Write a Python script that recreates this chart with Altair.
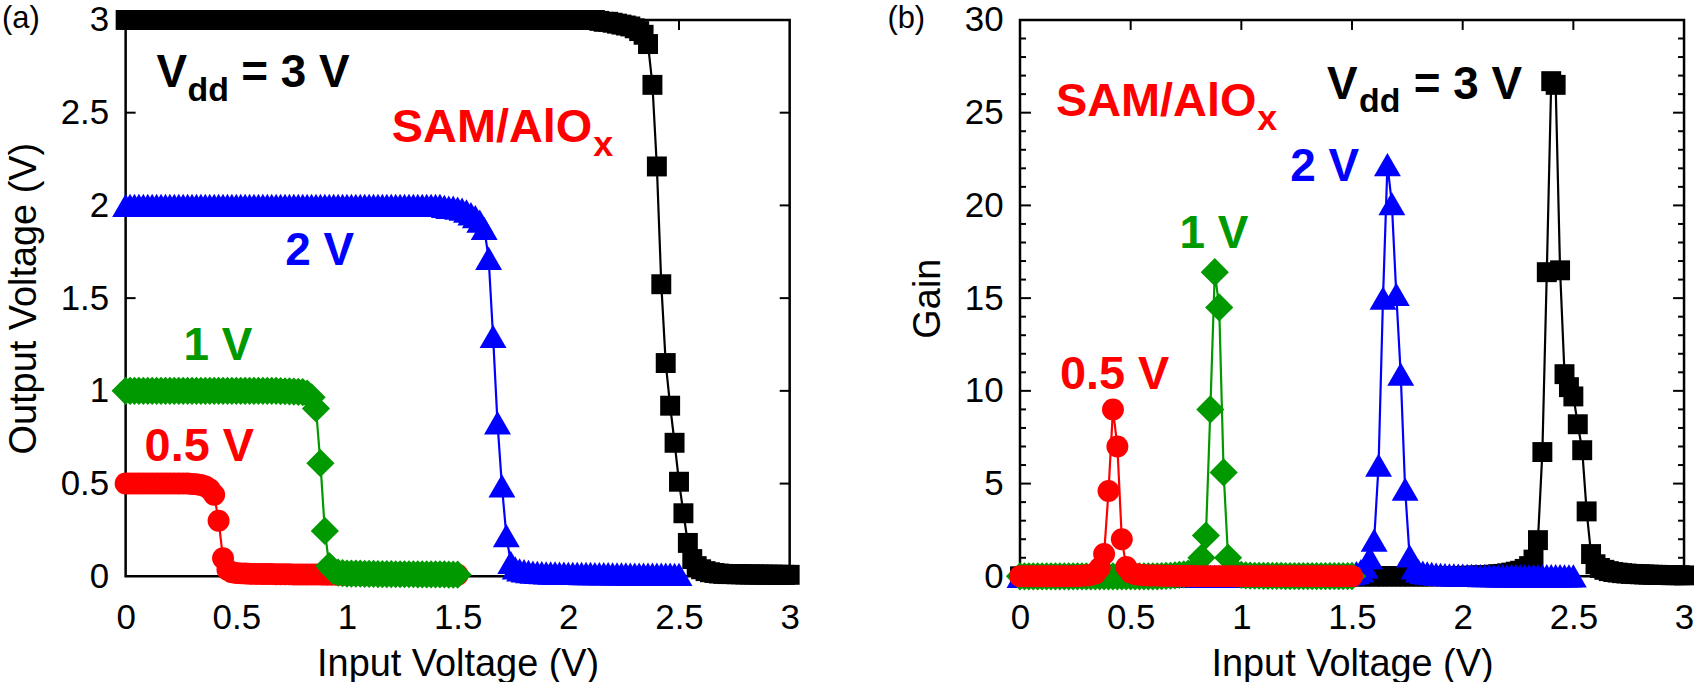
import altair as alt
import pandas as pd

# ---------------- data ----------------
VIN = [
    0.00, 0.02, 0.04, 0.06, 0.08, 0.10, 0.12, 0.14, 0.16, 0.18,
    0.20, 0.22, 0.24, 0.26, 0.28, 0.30, 0.32, 0.34, 0.36, 0.38,
    0.40, 0.42, 0.44, 0.46, 0.48, 0.50, 0.52, 0.54, 0.56, 0.58,
    0.60, 0.62, 0.64, 0.66, 0.68, 0.70, 0.72, 0.74, 0.76, 0.78,
    0.80, 0.82, 0.84, 0.86, 0.88, 0.90, 0.92, 0.94, 0.96, 0.98,
    1.00, 1.02, 1.04, 1.06, 1.08, 1.10, 1.12, 1.14, 1.16, 1.18,
    1.20, 1.22, 1.24, 1.26, 1.28, 1.30, 1.32, 1.34, 1.36, 1.38,
    1.40, 1.42, 1.44, 1.46, 1.48, 1.50, 1.52, 1.54, 1.56, 1.58,
    1.60, 1.62, 1.64, 1.66, 1.68, 1.70, 1.72, 1.74, 1.76, 1.78,
    1.80, 1.82, 1.84, 1.86, 1.88, 1.90, 1.92, 1.94, 1.96, 1.98,
    2.00, 2.02, 2.04, 2.06, 2.08, 2.10, 2.12, 2.14, 2.16, 2.18,
    2.20, 2.22, 2.24, 2.26, 2.28, 2.30, 2.32, 2.34, 2.36, 2.38,
    2.40, 2.42, 2.44, 2.46, 2.48, 2.50, 2.52, 2.54, 2.56, 2.58,
    2.60, 2.62, 2.64, 2.66, 2.68, 2.70, 2.72, 2.74, 2.76, 2.78,
    2.80, 2.82, 2.84, 2.86, 2.88, 2.90, 2.92, 2.94, 2.96, 2.98,
    3.00,
]

# Output voltage (V), panel (a)
VOUT_3V = [
    3.00, 3.00, 3.00, 3.00, 3.00, 3.00, 3.00, 3.00, 3.00, 3.00,
    3.00, 3.00, 3.00, 3.00, 3.00, 3.00, 3.00, 3.00, 3.00, 3.00,
    3.00, 3.00, 3.00, 3.00, 3.00, 3.00, 3.00, 3.00, 3.00, 3.00,
    3.00, 3.00, 3.00, 3.00, 3.00, 3.00, 3.00, 3.00, 3.00, 3.00,
    3.00, 3.00, 3.00, 3.00, 3.00, 3.00, 3.00, 3.00, 3.00, 3.00,
    3.00, 3.00, 3.00, 3.00, 3.00, 3.00, 3.00, 3.00, 3.00, 3.00,
    3.00, 3.00, 3.00, 3.00, 3.00, 3.00, 3.00, 3.00, 3.00, 3.00,
    3.00, 3.00, 3.00, 3.00, 3.00, 3.00, 3.00, 3.00, 3.00, 3.00,
    3.00, 3.00, 3.00, 3.00, 3.00, 3.00, 3.00, 3.00, 3.00, 3.00,
    3.00, 3.00, 3.00, 3.00, 3.00, 3.00, 3.00, 3.00, 3.00, 3.00,
    3.00, 3.00, 3.00, 3.00, 3.00, 3.00, 3.00, 2.995, 2.99, 2.99,
    2.985, 2.98, 2.975, 2.97, 2.965, 2.955, 2.94, 2.92, 2.87, 2.65,
    2.21, 1.575, 1.15, 0.92, 0.72, 0.51, 0.34, 0.18, 0.093, 0.055,
    0.038, 0.028, 0.022, 0.018, 0.015, 0.013, 0.012, 0.012, 0.011, 0.011,
    0.010, 0.010, 0.010, 0.009, 0.009, 0.009, 0.009, 0.008, 0.008, 0.008,
    0.008,
]
VOUT_2V = [
    2.00, 2.00, 2.00, 2.00, 2.00, 2.00, 2.00, 2.00, 2.00, 2.00,
    2.00, 2.00, 2.00, 2.00, 2.00, 2.00, 2.00, 2.00, 2.00, 2.00,
    2.00, 2.00, 2.00, 2.00, 2.00, 2.00, 2.00, 2.00, 2.00, 2.00,
    2.00, 2.00, 2.00, 2.00, 2.00, 2.00, 2.00, 2.00, 2.00, 2.00,
    2.00, 2.00, 2.00, 2.00, 2.00, 2.00, 2.00, 2.00, 2.00, 2.00,
    2.00, 2.00, 2.00, 2.00, 2.00, 2.00, 2.00, 2.00, 2.00, 2.00,
    2.00, 2.00, 2.00, 2.00, 2.00, 2.00, 2.00, 2.00, 2.00, 2.00,
    2.00, 2.00, 1.995, 1.99, 1.99, 1.985, 1.98, 1.97, 1.955, 1.94,
    1.915, 1.876, 1.715, 1.294, 0.828, 0.488, 0.219, 0.075, 0.045, 0.035,
    0.030, 0.026, 0.023, 0.021, 0.020, 0.019, 0.018, 0.018, 0.017, 0.017,
    0.016, 0.016, 0.016, 0.015, 0.015, 0.015, 0.014, 0.014, 0.014, 0.014,
    0.013, 0.013, 0.013, 0.013, 0.012, 0.012, 0.012, 0.012, 0.012, 0.011,
    0.011, 0.011, 0.011, 0.011, 0.010, 0.010,
]
VOUT_1V = [
    1.00, 1.00, 1.00, 1.00, 1.00, 1.00, 1.00, 1.00, 1.00, 1.00,
    1.00, 1.00, 1.00, 1.00, 1.00, 1.00, 1.00, 1.00, 1.00, 1.00,
    1.00, 1.00, 1.00, 1.00, 1.00, 1.00, 1.00, 1.00, 1.00, 1.00,
    1.00, 1.00, 1.00, 1.00, 1.00, 0.999, 0.998, 0.997, 0.996, 0.995,
    0.993, 0.985, 0.965, 0.905, 0.610, 0.245, 0.055, 0.028, 0.020, 0.017,
    0.015, 0.015, 0.014, 0.014, 0.013, 0.013, 0.013, 0.012, 0.012, 0.012,
    0.012, 0.011, 0.011, 0.011, 0.011, 0.011, 0.010, 0.010, 0.010, 0.010,
    0.010, 0.010, 0.010, 0.009, 0.009, 0.009,
]
VOUT_05V = [
    0.50, 0.50, 0.50, 0.50, 0.50, 0.50, 0.50, 0.50, 0.50, 0.50,
    0.50, 0.50, 0.50, 0.50, 0.50, 0.498, 0.496, 0.492, 0.485, 0.470,
    0.440, 0.300, 0.097, 0.035, 0.022, 0.018, 0.016, 0.015, 0.014, 0.013,
    0.013, 0.012, 0.012, 0.012, 0.011, 0.011, 0.011, 0.011, 0.010, 0.010,
    0.010, 0.010, 0.010, 0.010, 0.010, 0.009, 0.009, 0.009, 0.009, 0.009,
    0.009, 0.009, 0.009, 0.009, 0.009, 0.008, 0.008, 0.008, 0.008, 0.008,
    0.008, 0.008, 0.008, 0.008, 0.008, 0.008, 0.008, 0.008, 0.008, 0.008,
    0.008, 0.008, 0.008, 0.008, 0.008, 0.008,
]

# Gain, panel (b)
GAIN_3V = [
    0.00, 0.00, 0.00, 0.00, 0.00, 0.00, 0.00, 0.00, 0.00, 0.00,
    0.00, 0.00, 0.00, 0.00, 0.00, 0.00, 0.00, 0.00, 0.00, 0.00,
    0.00, 0.00, 0.00, 0.00, 0.00, 0.00, 0.00, 0.00, 0.00, 0.00,
    0.00, 0.00, 0.00, 0.00, 0.00, 0.00, 0.00, 0.00, 0.00, 0.00,
    0.00, 0.00, 0.00, 0.00, 0.00, 0.00, 0.00, 0.00, 0.00, 0.00,
    0.00, 0.00, 0.00, 0.00, 0.00, 0.00, 0.00, 0.00, 0.00, 0.00,
    0.00, 0.00, 0.00, 0.00, 0.00, 0.00, 0.00, 0.00, 0.00, 0.00,
    0.00, 0.00, 0.00, 0.00, 0.00, 0.00, 0.00, 0.00, 0.00, 0.00,
    0.00, 0.00, 0.00, 0.00, 0.00, 0.00, 0.00, 0.00, 0.00, 0.00,
    0.00, 0.00, 0.00, 0.00, 0.01, 0.01, 0.01, 0.01, 0.01, 0.01,
    0.02, 0.03, 0.03, 0.04, 0.05, 0.06, 0.07, 0.09, 0.11, 0.13,
    0.16, 0.20, 0.25, 0.30, 0.40, 0.55, 0.90, 1.95, 6.70, 16.4,
    26.7, 26.5, 16.5, 10.9, 10.2, 9.7, 8.2, 6.8, 3.5, 1.2,
    0.65, 0.45, 0.35, 0.28, 0.23, 0.20, 0.17, 0.15, 0.13, 0.12,
    0.11, 0.10, 0.09, 0.08, 0.08, 0.07, 0.07, 0.06, 0.06, 0.06,
    0.05,
]
GAIN_2V = [
    0.00, 0.00, 0.00, 0.00, 0.00, 0.00, 0.00, 0.00, 0.00, 0.00,
    0.00, 0.00, 0.00, 0.00, 0.00, 0.00, 0.00, 0.00, 0.00, 0.00,
    0.00, 0.00, 0.00, 0.00, 0.00, 0.00, 0.00, 0.00, 0.00, 0.00,
    0.00, 0.00, 0.00, 0.00, 0.00, 0.00, 0.00, 0.00, 0.00, 0.00,
    0.00, 0.00, 0.00, 0.00, 0.00, 0.00, 0.00, 0.00, 0.00, 0.00,
    0.00, 0.00, 0.00, 0.00, 0.00, 0.00, 0.00, 0.00, 0.00, 0.00,
    0.00, 0.00, 0.00, 0.00, 0.01, 0.01, 0.01, 0.01, 0.01, 0.01,
    0.02, 0.03, 0.05, 0.07, 0.10, 0.15, 0.20, 0.30, 0.50, 1.00,
    1.95, 6.0, 15.0, 22.2, 20.1, 15.2, 10.9, 4.7, 1.1, 0.45,
    0.30, 0.22, 0.18, 0.15, 0.12, 0.10, 0.09, 0.08, 0.07, 0.06,
    0.06, 0.05, 0.05, 0.05, 0.04, 0.04, 0.04, 0.04, 0.03, 0.03,
    0.03, 0.03, 0.03, 0.03, 0.03, 0.03, 0.03, 0.03, 0.03, 0.03,
    0.03, 0.03, 0.03, 0.02, 0.02, 0.02,
]
GAIN_1V = [
    0.00, 0.00, 0.00, 0.00, 0.00, 0.00, 0.00, 0.00, 0.00, 0.00,
    0.00, 0.00, 0.00, 0.00, 0.00, 0.00, 0.00, 0.00, 0.00, 0.00,
    0.00, 0.00, 0.00, 0.00, 0.00, 0.00, 0.00, 0.00, 0.00, 0.00,
    0.00, 0.00, 0.01, 0.02, 0.03, 0.05, 0.08, 0.10, 0.15, 0.25,
    0.45, 1.00, 2.20, 9.00, 16.4, 14.5, 5.60, 1.00, 0.35, 0.15,
    0.08, 0.05, 0.04, 0.03, 0.03, 0.02, 0.02, 0.02, 0.02, 0.02,
    0.01, 0.01, 0.01, 0.01, 0.01, 0.01, 0.01, 0.01, 0.01, 0.01,
    0.01, 0.01, 0.01, 0.01, 0.01, 0.01,
]
GAIN_05V = [
    0.00, 0.00, 0.00, 0.00, 0.00, 0.00, 0.00, 0.00, 0.00, 0.00,
    0.00, 0.01, 0.01, 0.02, 0.03, 0.05, 0.08, 0.15, 0.45, 1.20,
    4.60, 9.00, 7.00, 2.00, 0.50, 0.20, 0.12, 0.08, 0.06, 0.05,
    0.04, 0.04, 0.03, 0.03, 0.03, 0.02, 0.02, 0.02, 0.02, 0.02,
    0.01, 0.01, 0.01, 0.01, 0.01, 0.01, 0.01, 0.01, 0.01, 0.01,
    0.01, 0.01, 0.01, 0.01, 0.01, 0.01, 0.01, 0.01, 0.01, 0.01,
    0.01, 0.01, 0.01, 0.01, 0.01, 0.01, 0.01, 0.01, 0.01, 0.01,
    0.01, 0.01, 0.01, 0.01, 0.01, 0.01,
]

AXIS_TICKS = [0, 0.5, 1, 1.5, 2, 2.5, 3]
GAIN_AXIS_TICKS = [0, 5, 10, 15, 20, 25, 30]
INNER_TICKS = [0.5, 1, 1.5, 2, 2.5]
GAIN_MAJOR_INNER = [5, 10, 15, 20, 25]
GAIN_MINOR_INNER = [1, 2, 3, 4, 6, 7, 8, 9, 11, 12, 13, 14,
                    16, 17, 18, 19, 21, 22, 23, 24, 26, 27, 28, 29]

# ---------------- styling ----------------
FONT = "Liberation Sans"
W, H = 666, 558
BLACK, BLUE, GREEN, RED = "#000000", "#0000FF", "#009900", "#FF0000"
ONE = pd.DataFrame({"n": [0]})

XSCALE = alt.Scale(domain=[0, 3], nice=False, zero=False)
VSCALE = alt.Scale(domain=[0, 3], nice=False, zero=False)
GSCALE = alt.Scale(domain=[0, 30], nice=False, zero=False)


def x_axis():
    return alt.Axis(values=AXIS_TICKS, format="~g", title="Input Voltage (V)",
                    ticks=False, tickSize=0, domain=False, grid=False,
                    labelPadding=24, labelFlush=False, labelOverlap=False,
                    titleX=W / 2, titleY=99, titleAlign="center",
                    titleBaseline="alphabetic")


def y_axis(values, title, title_x):
    return alt.Axis(values=values, format="~g", title=title,
                    ticks=False, tickSize=0, domain=False, grid=False,
                    labelPadding=17, labelFlush=False, labelOverlap=False,
                    titleAngle=270, titleX=title_x, titleY=H / 2,
                    titleAlign="center", titleBaseline="alphabetic")


def make_panel(yscale, yaxis, tick_specs, series_specs, notes):
    xa = x_axis()
    layers = []
    # inward tick marks, drawn first so markers cover them
    for vals, side, length in tick_specs:
        df = pd.DataFrame({"t": vals})
        if side in ("bottom", "top"):
            y0, y1 = (H, H - length) if side == "bottom" else (0, length)
            layers.append(alt.Chart(df).mark_rule(color="black", strokeWidth=2).encode(
                x=alt.X("t:Q", scale=XSCALE, axis=xa),
                y=alt.value(y0), y2=alt.value(y1)))
        else:
            x0, x1 = (0, length) if side == "left" else (W, W - length)
            layers.append(alt.Chart(df).mark_rule(color="black", strokeWidth=2).encode(
                y=alt.Y("t:Q", scale=yscale, axis=yaxis),
                x=alt.value(x0), x2=alt.value(x1)))
    for values, color, shape, size in series_specs:
        df = pd.DataFrame({"vin": VIN[:len(values)], "val": values})
        base = alt.Chart(df).encode(
            x=alt.X("vin:Q", scale=XSCALE, axis=xa),
            y=alt.Y("val:Q", scale=yscale, axis=yaxis),
        )
        layers.append(base.mark_line(color=color, strokeWidth=2.2))
        layers.append(base.mark_point(shape=shape, size=size, filled=True,
                                      color=color, opacity=1, strokeWidth=0))
    for text, x, y, size, color, weight, baseline in notes:
        layers.append(alt.Chart(ONE).mark_text(
            text=text, font=FONT, fontSize=size, fontWeight=weight, color=color,
            align="left", baseline=baseline).encode(x=alt.value(x), y=alt.value(y)))
    return alt.layer(*layers).properties(width=W, height=H)


# ---------------- panel (a) ----------------
left = make_panel(
    VSCALE,
    y_axis(AXIS_TICKS, "Output Voltage (V)", -90),
    [(INNER_TICKS, "bottom", 10), (INNER_TICKS, "top", 10),
     (INNER_TICKS, "left", 10), (INNER_TICKS, "right", 10)],
    [(VOUT_3V, BLACK, "square", 400),
     (VOUT_2V, BLUE, "triangle-up", 729),
     (VOUT_05V, RED, "circle", 484),
     (VOUT_1V, GREEN, "diamond", 800)],
    [("(a)", -124, -16, 31, BLACK, "normal", "top"),
     ("V", 31, 67, 46, BLACK, "bold", "alphabetic"),
     ("dd", 62, 81, 34, BLACK, "bold", "alphabetic"),
     ("= 3 V", 116, 67, 46, BLACK, "bold", "alphabetic"),
     ("SAM/AlO", 267, 122, 47, RED, "bold", "alphabetic"),
     ("x", 469, 136, 36, RED, "bold", "alphabetic"),
     ("2 V", 160, 246, 46, BLUE, "bold", "alphabetic"),
     ("1 V", 58, 341, 46, GREEN, "bold", "alphabetic"),
     ("0.5 V", 19, 442, 47, RED, "bold", "alphabetic")],
)

# ---------------- panel (b) ----------------
right = make_panel(
    GSCALE,
    y_axis(GAIN_AXIS_TICKS, "Gain", -81),
    [(INNER_TICKS, "bottom", 10), (INNER_TICKS, "top", 10),
     (GAIN_MAJOR_INNER, "left", 11), (GAIN_MAJOR_INNER, "right", 11),
     (GAIN_MINOR_INNER, "left", 6), (GAIN_MINOR_INNER, "right", 6)],
    [(GAIN_3V, BLACK, "square", 400),
     (GAIN_2V, BLUE, "triangle-up", 729),
     (GAIN_1V, GREEN, "diamond", 800),
     (GAIN_05V, RED, "circle", 484)],
    [("(b)", -133, -16, 31, BLACK, "normal", "top"),
     ("SAM/AlO", 36, 96, 47, RED, "bold", "alphabetic"),
     ("x", 238, 110, 36, RED, "bold", "alphabetic"),
     ("V", 308, 79, 46, BLACK, "bold", "alphabetic"),
     ("dd", 340, 92, 34, BLACK, "bold", "alphabetic"),
     ("= 3 V", 395, 79, 46, BLACK, "bold", "alphabetic"),
     ("2 V", 271, 162, 46, BLUE, "bold", "alphabetic"),
     ("1 V", 160, 229, 46, GREEN, "bold", "alphabetic"),
     ("0.5 V", 40, 370, 47, RED, "bold", "alphabetic")],
)

chart = alt.hconcat(left, right, spacing=231, bounds="flush").properties(
    padding=0
).configure_view(
    stroke="black", strokeWidth=2.5
).configure_axis(
    labelFont=FONT, titleFont=FONT, labelFontSize=35, titleFontSize=38,
    labelColor="black", titleColor="black", titleFontWeight="normal"
)

chart.save("out.html", embed_options={"renderer": "svg", "actions": False})
